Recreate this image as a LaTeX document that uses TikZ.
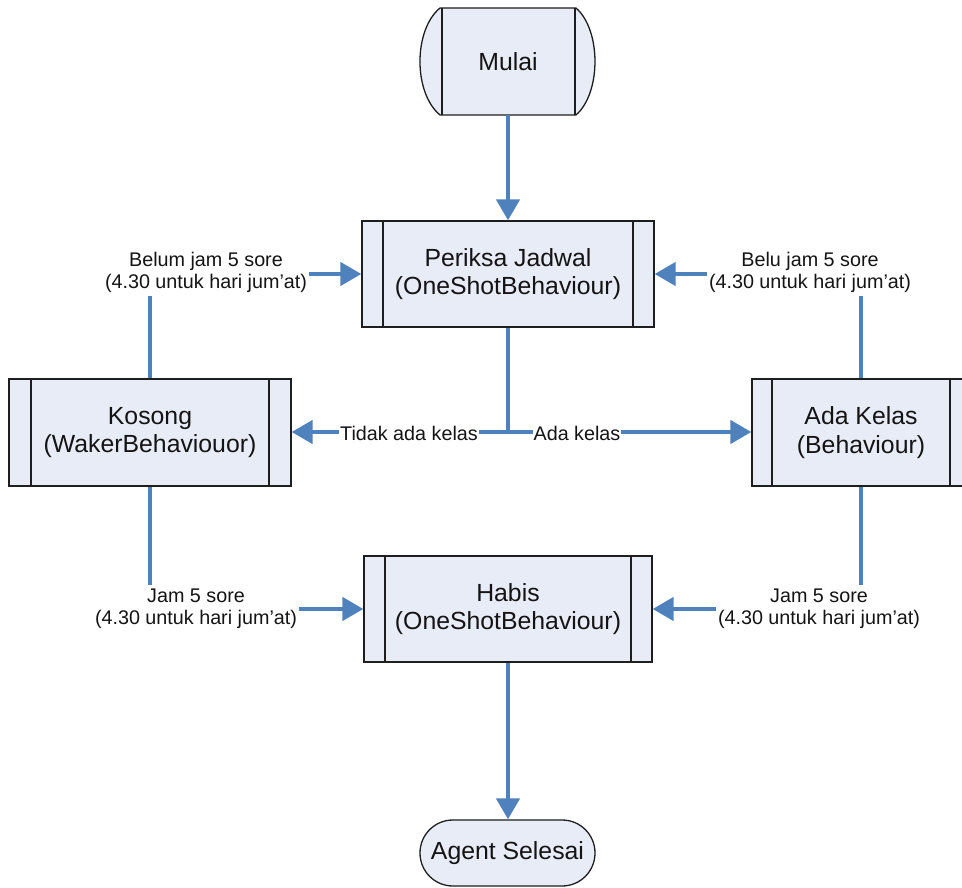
\documentclass[tikz,border=0pt]{standalone}
\usepackage{fontspec}
\setmainfont{Liberation Sans}
\usetikzlibrary{arrows.meta}

\definecolor{flowblue}{RGB}{79,129,189}
\definecolor{boxfill}{RGB}{232,236,246}
\definecolor{edgegray}{RGB}{30,30,30}
\definecolor{ink}{RGB}{20,20,20}

\newcommand{\boxfont}{\fontsize{24.8}{28.5}\selectfont}
\newcommand{\lblfont}{\fontsize{19.75}{22}\selectfont}

\tikzset{
  conn/.style={draw=flowblue, line width=4.5pt},
  arr/.style={conn, -{Triangle[length=21pt,width=23pt]}},
  proc/.style={draw=edgegray, fill=boxfill, line width=1.3pt, rectangle,
    inner sep=0pt, align=center, font=\boxfont, text=ink,
    path picture={
      \draw[edgegray, line width=1.3pt]
        ([xshift=#1]path picture bounding box.north west) --
        ([xshift=#1]path picture bounding box.south west)
        ([xshift=-#1]path picture bounding box.north east) --
        ([xshift=-#1]path picture bounding box.south east);
    }},
  cond/.style={inner sep=0pt, align=center, font=\lblfont, text=ink},
  branch/.style={fill=white, inner sep=1pt, font=\lblfont, text=ink}
}

\begin{document}
\begin{tikzpicture}[x=1pt, y=-1pt]
  \useasboundingbox[fill=white] (0,0) rectangle (962,888);

  % start terminator with bulging sides
  \draw[edgegray, fill=boxfill, line width=1.3pt]
    (440,8) -- (576,8) .. controls (601.3,30) and (601.3,93) .. (576,115)
    -- (440,115) .. controls (413.3,93) and (413.3,30) .. (440,8) -- cycle;
  \draw[edgegray, line width=1.3pt] (442,8) -- (442,115) (575,8) -- (575,115);
  \node[font=\boxfont, text=ink, minimum width=156pt, minimum height=107pt, inner sep=0pt]
    (mulai) at (508,61.5) {Mulai};

  % processes
  \node[proc=21pt, minimum width=292pt, minimum height=106pt] (periksa) at (508,274)
    {Periksa Jadwal\\(OneShotBehaviour)};
  \node[proc=22pt, minimum width=282pt, minimum height=107pt] (kosong) at (150,432.5)
    {Kosong\\(WakerBehaviouor)};
  \node[proc=20pt, minimum width=218pt, minimum height=107pt] (adakelas) at (861,432.5)
    {Ada Kelas\\(Behaviour)};
  \node[proc=21pt, minimum width=288pt, minimum height=106pt] (habis) at (508,609)
    {Habis\\(OneShotBehaviour)};

  % end terminator
  \node[draw=edgegray, fill=boxfill, line width=1.3pt, rounded corners=32.9pt,
    minimum width=175pt, minimum height=66pt, inner sep=0pt, font=\boxfont, text=ink]
    (agent) at (507.5,853) {Agent Selesai};

  % condition labels
  \node[cond] (lblA) at (206,272) {Belum jam 5 sore\\(4.30 untuk hari jum’at)};
  \node[cond] (lblB) at (810,272) {Belu jam 5 sore\\(4.30 untuk hari jum’at)};
  \node[cond] (lblC) at (196,609) {Jam 5 sore\\(4.30 untuk hari jum’at)};
  \node[cond] (lblD) at (819,609) {Jam 5 sore\\(4.30 untuk hari jum’at)};

  \coordinate (fork) at (508,432);

  % main flow
  \draw[arr] (mulai.south) -- (periksa.north);
  \draw[conn] (periksa.south) -- ([yshift=-2.25pt]fork);
  \draw[arr] (fork) -- (kosong.east |- fork);
  \draw[arr] (fork) -- (adakelas.west |- fork);
  \draw[arr] (habis.south) -- (habis.south |- agent.north);

  % loops back to schedule check
  \draw[conn] (kosong.north) -- ([yshift=-4pt]kosong.north |- lblA.south);
  \draw[arr] ([xshift=2pt]lblA.east |- periksa.west) -- (periksa.west);
  \draw[conn] (adakelas.north) -- ([yshift=-4pt]adakelas.north |- lblB.south);
  \draw[arr] ([xshift=-2pt]lblB.west |- periksa.east) -- (periksa.east);

  % end-of-day transitions
  \draw[conn] (kosong.south) -- ([yshift=4pt]kosong.south |- lblC.north);
  \draw[arr] ([xshift=2pt]lblC.east |- habis.west) -- (habis.west);
  \draw[conn] (adakelas.south) -- ([yshift=4pt]adakelas.south |- lblD.north);
  \draw[arr] ([xshift=-2pt]lblD.west |- habis.east) -- (habis.east);

  % branch labels
  \node[branch] (tidak) at (409,433) {Tidak ada kelas};
  \node[branch] (ada) at (577,433) {Ada kelas};
\end{tikzpicture}
\end{document}
